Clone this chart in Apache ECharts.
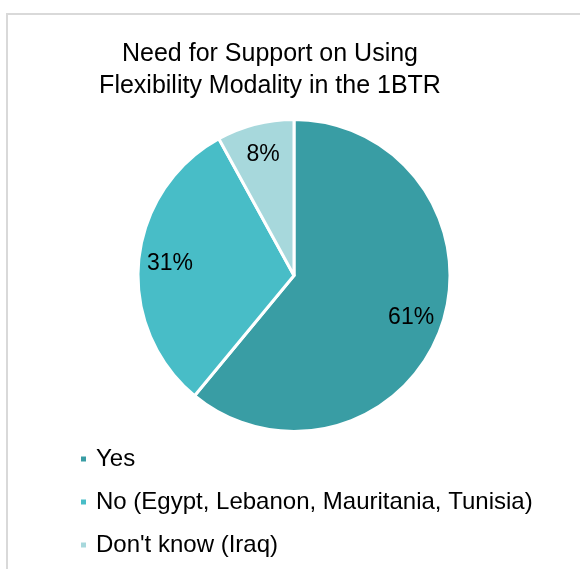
<!DOCTYPE html>
<html>
<head>
<meta charset="utf-8">
<script src="https://cdn.jsdelivr.net/npm/echarts@6/dist/echarts.min.js"></script>
<style>
  html, body { margin: 0; padding: 0; background: #fff; }
  #chart { width: 580px; height: 569px; }
</style>
</head>
<body>
<div id="chart"></div>
<script>
// Survey answers (share of respondents, %)
const categories = ['Yes', 'No (Egypt, Lebanon, Mauritania, Tunisia)', "Don't know (Iraq)"];
const shares = [61, 31, 8];
const sliceColors = ['#399DA4', '#48BDC7', '#A7D8DC'];
const chartTitle = 'Need for Support on Using\nFlexibility Modality in the 1BTR';

const FONT = '"Liberation Sans", Arial, sans-serif';
const pieData = categories.map((name, i) => ({
  name: name,
  value: shares[i],
  itemStyle: { color: sliceColors[i] }
}));

const chart = echarts.init(document.getElementById('chart'), null, { renderer: 'canvas' });
chart.setOption({
  backgroundColor: '#ffffff',
  animation: false,
  graphic: [{
    type: 'rect',
    shape: { x: 7, y: 14, width: 700, height: 700 },
    style: { fill: 'none', stroke: '#d9d9d9', lineWidth: 2 },
    silent: true,
    z: -1
  }],
  title: {
    text: chartTitle,
    left: 270,
    top: 38,
    padding: 0,
    textAlign: 'center',
    textStyle: {
      fontFamily: FONT,
      fontSize: 25,
      fontWeight: 'normal',
      color: '#000',
      lineHeight: 32
    }
  },
  legend: {
    orient: 'vertical',
    left: 79,
    top: 447,
    padding: 0,
    icon: 'rect',
    itemWidth: 7,
    itemHeight: 7,
    itemGap: 19,
    data: categories,
    selectedMode: false,
    textStyle: {
      fontFamily: FONT,
      fontSize: 24,
      color: '#000',
      lineHeight: 24,
      padding: [0, 0, 0, 4]
    }
  },
  series: [
    {
      // the slices
      type: 'pie',
      center: [294, 275.5],
      radius: [0, 156],
      startAngle: 90,
      clockwise: true,
      data: pieData,
      itemStyle: { borderColor: '#ffffff', borderWidth: 3 },
      label: { show: false },
      labelLine: { show: false },
      emphasis: { disabled: true }
    },
    {
      // percentage labels placed toward the outer part of each slice
      type: 'pie',
      center: [294, 275.5],
      radius: [87, 156],
      startAngle: 90,
      clockwise: true,
      silent: true,
      data: categories.map((name, i) => ({ name: name, value: shares[i] })),
      itemStyle: { color: 'rgba(0,0,0,0)', borderWidth: 0 },
      label: {
        show: true,
        position: 'inside',
        formatter: p => p.value + '%',
        fontFamily: FONT,
        fontSize: 23,
        color: '#000'
      },
      labelLine: { show: false },
      emphasis: { disabled: true }
    }
  ]
});
</script>
</body>
</html>
